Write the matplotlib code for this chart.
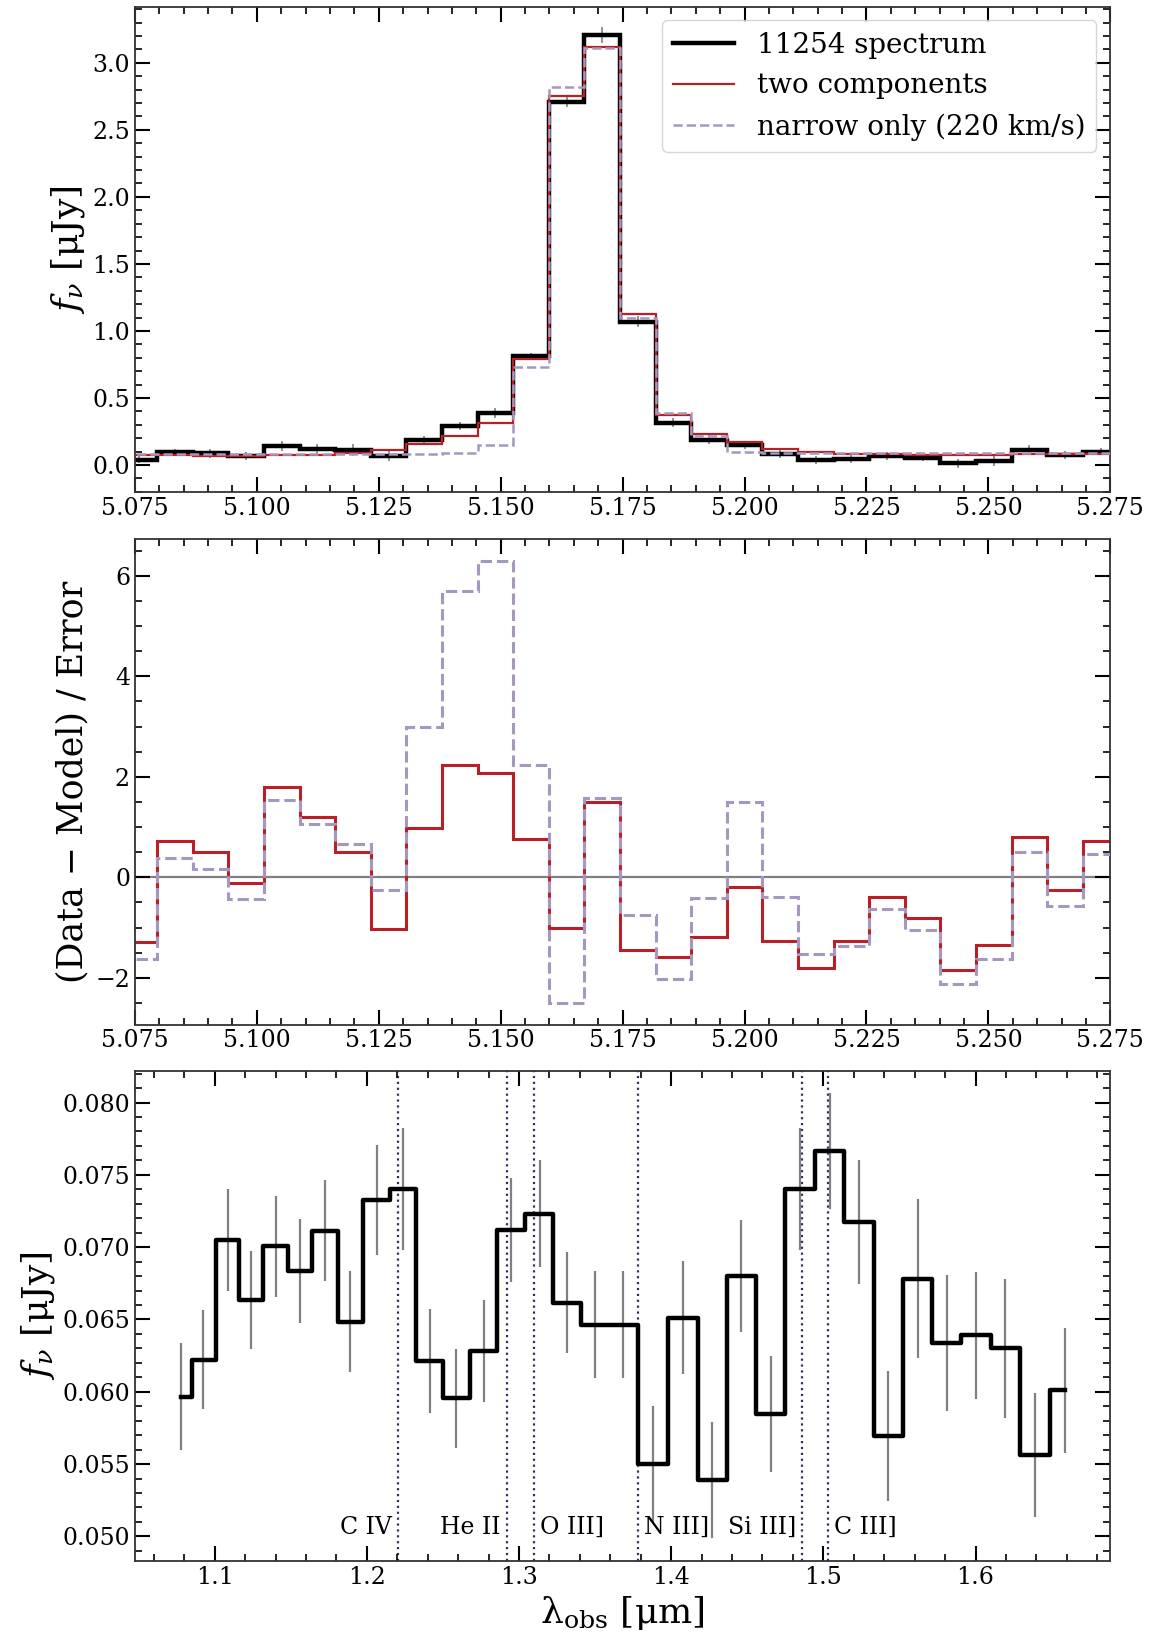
import matplotlib
matplotlib.use("Agg")
import numpy as np
import matplotlib.pyplot as plt
from matplotlib.ticker import MultipleLocator

plt.rcParams['font.family'] = ['DejaVu Serif']
plt.rcParams['mathtext.fontset'] = 'dejavuserif'

# ---- Halpha region (bin centres, um) ----
wave_ha = [5.0759, 5.0832, 5.0905, 5.0978, 5.1051, 5.1124, 5.1197, 5.1270,
           5.1343, 5.1416, 5.1489, 5.1562, 5.1635, 5.1708, 5.1781, 5.1854,
           5.1927, 5.2000, 5.2073, 5.2146, 5.2219, 5.2292, 5.2365, 5.2438,
           5.2511, 5.2584, 5.2657, 5.2730]

flux_ha = [0.040, 0.095, 0.087, 0.070, 0.140, 0.120, 0.110, 0.070,
           0.190, 0.290, 0.390, 0.810, 2.710, 3.210, 1.070, 0.316,
           0.190, 0.150, 0.080, 0.037, 0.045, 0.067, 0.055, 0.012,
           0.030, 0.110, 0.075, 0.100]

err_ha = [0.027, 0.027, 0.034, 0.030, 0.036, 0.036, 0.046, 0.039,
          0.030, 0.031, 0.039, 0.026, 0.040, 0.060, 0.041, 0.034,
          0.034, 0.030, 0.031, 0.032, 0.031, 0.030, 0.028, 0.035,
          0.035, 0.037, 0.030, 0.025]

model_two = [0.075, 0.075, 0.070, 0.070, 0.075, 0.077, 0.087, 0.110,
             0.160, 0.220, 0.310, 0.790, 2.750, 3.120, 1.130, 0.370,
             0.230, 0.170, 0.120, 0.095, 0.085, 0.080, 0.077, 0.077,
             0.077, 0.080, 0.080, 0.082]

model_narrow = [0.080, 0.080, 0.080, 0.080, 0.080, 0.080, 0.080, 0.080,
                0.080, 0.087, 0.150, 0.730, 2.820, 3.110, 1.100, 0.385,
                0.220, 0.100, 0.090, 0.087, 0.087, 0.087, 0.087, 0.087,
                0.087, 0.087, 0.087, 0.087]

resid_two = [-1.29, 0.73, 0.50, -0.12, 1.79, 1.20, 0.50, -1.02,
             0.99, 2.23, 2.07, 0.77, -1.01, 1.50, -1.45, -1.58,
             -1.19, -0.20, -1.27, -1.80, -1.27, -0.40, -0.80, -1.84,
             -1.35, 0.80, -0.25, 0.73]

resid_narrow = [-1.63, 0.39, 0.17, -0.43, 1.53, 1.07, 0.67, -0.25,
                3.00, 5.70, 6.30, 2.23, -2.50, 1.58, -0.75, -2.02,
                -0.41, 1.50, -0.39, -1.53, -1.37, -0.63, -1.05, -2.13,
                -1.63, 0.50, -0.57, 0.47]

# ---- rest-UV region ----
wave_uv = [1.0779, 1.0926, 1.1086, 1.1237, 1.1400, 1.1558, 1.1726, 1.1891,
           1.2065, 1.2237, 1.2412, 1.2588, 1.2767, 1.2947, 1.3135, 1.3314,
           1.3500, 1.3686, 1.3878, 1.4081, 1.4270, 1.4461, 1.4653, 1.4849,
           1.5043, 1.5234, 1.5426, 1.5622, 1.5811, 1.6002, 1.6196, 1.6394,
           1.6588]

flux_uv = [0.05967, 0.06223, 0.07049, 0.06633, 0.07005, 0.06833, 0.07113, 0.06485,
           0.07326, 0.07403, 0.06215, 0.05954, 0.06282, 0.07121, 0.07231, 0.06615,
           0.06462, 0.06462, 0.05500, 0.06513, 0.05390, 0.06800, 0.05844, 0.07403,
           0.07664, 0.07172, 0.05697, 0.06782, 0.06338, 0.06390, 0.06300, 0.05564,
           0.06010]

err_uv = [0.0037, 0.0034, 0.0035, 0.0034, 0.0035, 0.0036, 0.0035, 0.0035,
          0.0038, 0.0042, 0.0036, 0.0034, 0.0035, 0.0036, 0.0037, 0.0035,
          0.0037, 0.0037, 0.0040, 0.0039, 0.0040, 0.0039, 0.0040, 0.0042,
          0.0040, 0.0043, 0.0045, 0.0055, 0.0047, 0.0044, 0.0048, 0.0043,
          0.0043]

line_names = ["C IV", "He II", "O III]", "N III]", "Si III]", "C III]"]
line_waves = [1.2202, 1.2918, 1.3100, 1.3781, 1.4860, 1.5031]
line_align = ["right", "right", "left", "left", "right", "left"]

red = "#b82025"
lilac = "#a597bf"

# bin edges from the centres
w = np.array(wave_ha)
mids = (w[1:] + w[:-1]) / 2
edges = np.concatenate([[w[0] - (mids[0] - w[0])], mids, [w[-1] + (w[-1] - mids[-1])]])

fig = plt.figure(figsize=(11.53, 16.34), dpi=100)
ax1 = fig.add_axes([0.117, 0.699, 0.846, 0.297])
ax2 = fig.add_axes([0.117, 0.373, 0.846, 0.297])
ax3 = fig.add_axes([0.117, 0.0447, 0.846, 0.300])

# --------------------
# top: H-alpha profile
ax1.errorbar(wave_ha, flux_ha, yerr=err_ha, fmt='none', ecolor='grey', elinewidth=1.2, zorder=1)
ax1.stairs(flux_ha, edges, color='black', lw=3.2, label='11254 spectrum', zorder=2)
ax1.stairs(model_two, edges, color=red, lw=1.6, label='two components', zorder=3)
ax1.stairs(model_narrow, edges, color=lilac, lw=1.8, ls='--', label='narrow only (220 km/s)', zorder=4)
ax1.set_xlim(5.075, 5.275)
ax1.set_ylim(-0.2, 3.42)
ax1.set_ylabel(r'$f_\nu$ [μJy]', fontsize=26)
ax1.xaxis.set_major_locator(MultipleLocator(0.025))
ax1.xaxis.set_minor_locator(MultipleLocator(0.005))
ax1.yaxis.set_major_locator(MultipleLocator(0.5))
ax1.yaxis.set_minor_locator(MultipleLocator(0.1))
ax1.legend(loc='upper right', fontsize=20, handlelength=2.2)

# --------------------
# middle: residuals
ax2.axhline(0, color='grey', lw=1.6, zorder=1)
ax2.stairs(resid_two, edges, color=red, lw=2.2, zorder=2)
ax2.stairs(resid_narrow, edges, color=lilac, lw=2.2, ls='--', zorder=3)
ax2.set_xlim(5.075, 5.275)
ax2.set_ylim(-2.93, 6.73)
ax2.set_ylabel('(Data − Model) / Error', fontsize=25)
ax2.xaxis.set_major_locator(MultipleLocator(0.025))
ax2.xaxis.set_minor_locator(MultipleLocator(0.005))
ax2.yaxis.set_major_locator(MultipleLocator(2))
ax2.yaxis.set_minor_locator(MultipleLocator(0.5))

# --------------------
# bottom: rest-UV lines
ax3.errorbar(wave_uv, flux_uv, yerr=err_uv, fmt='none', ecolor='grey', elinewidth=1.6, zorder=1)
ax3.step(wave_uv, flux_uv, where='mid', color='black', lw=3.2, zorder=2)
for name, lw_, ha in zip(line_names, line_waves, line_align):
    ax3.axvline(lw_, color='#2f2f60', ls=':', lw=1.6, zorder=0)
    off = -0.004 if ha == 'right' else 0.004
    ax3.text(lw_ + off, 0.0506, name, ha=ha, va='center', fontsize=17)
ax3.set_xlim(1.0476, 1.6886)
ax3.set_ylim(0.0483, 0.0822)
ax3.set_ylabel(r'$f_\nu$ [μJy]', fontsize=26)
ax3.set_xlabel(r'λ$_{\rm obs}$ [μm]', fontsize=26)
ax3.xaxis.set_major_locator(MultipleLocator(0.1))
ax3.xaxis.set_minor_locator(MultipleLocator(0.02))
ax3.yaxis.set_major_locator(MultipleLocator(0.005))
ax3.yaxis.set_minor_locator(MultipleLocator(0.001))

for ax in [ax1, ax2, ax3]:
    ax.tick_params(which='both', direction='in', top=True, right=True, labelsize=17)
    ax.tick_params(which='major', length=11, width=1.5)
    ax.tick_params(which='minor', length=5, width=1.2)
    for s in ax.spines.values():
        s.set_linewidth(1.3)
        s.set_color('#333333')

fig.savefig('out.png', dpi=100)
